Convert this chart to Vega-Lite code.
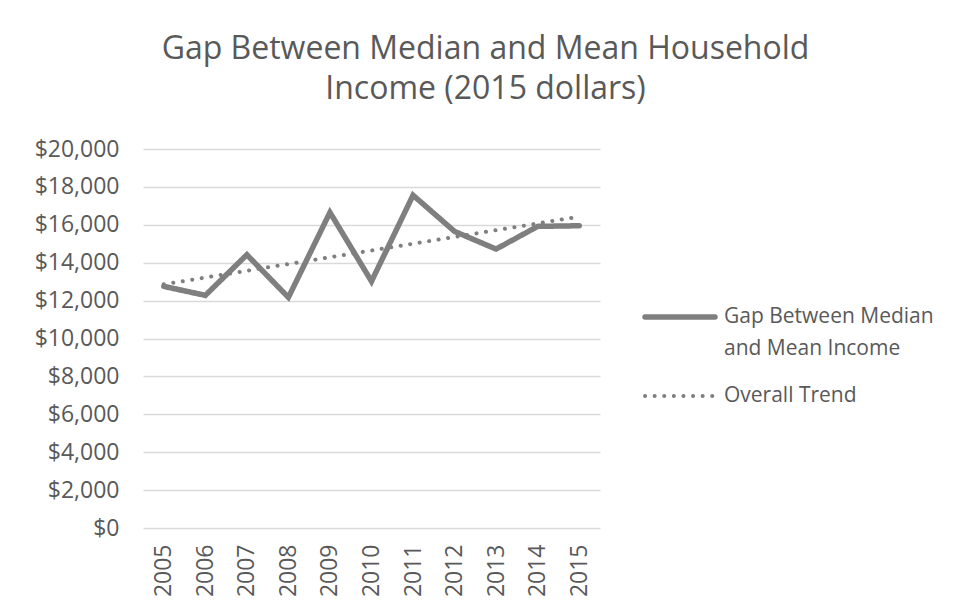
{
  "$schema": "https://vega.github.io/schema/vega-lite/v6.json",
  "width": 457,
  "height": 379,
  "autosize": {"type": "none"},
  "padding": {"left": 143, "top": 149, "right": 363, "bottom": 87},
  "background": "white",
  "title": {
    "text": ["Gap Between Median and Mean Household", "Income (2015 dollars)"],
    "anchor": "middle",
    "frame": "group",
    "dx": 114,
    "offset": 7,
    "font": "Open Sans",
    "fontSize": 32,
    "fontWeight": "normal",
    "color": "#595959",
    "lineHeight": 40,
    "baseline": "alphabetic"
  },
  "data": {
    "values": [
      {"year": "2005", "value": 12750, "series": "Gap Between Median and Mean Income"},
      {"year": "2006", "value": 12275, "series": "Gap Between Median and Mean Income"},
      {"year": "2007", "value": 14420, "series": "Gap Between Median and Mean Income"},
      {"year": "2008", "value": 12170, "series": "Gap Between Median and Mean Income"},
      {"year": "2009", "value": 16655, "series": "Gap Between Median and Mean Income"},
      {"year": "2010", "value": 13015, "series": "Gap Between Median and Mean Income"},
      {"year": "2011", "value": 17560, "series": "Gap Between Median and Mean Income"},
      {"year": "2012", "value": 15650, "series": "Gap Between Median and Mean Income"},
      {"year": "2013", "value": 14720, "series": "Gap Between Median and Mean Income"},
      {"year": "2014", "value": 15917, "series": "Gap Between Median and Mean Income"},
      {"year": "2015", "value": 15950, "series": "Gap Between Median and Mean Income"},
      {"year": "2005", "value": 12860, "series": "Overall Trend"},
      {"year": "2015", "value": 16430, "series": "Overall Trend"}
    ]
  },
  "mark": {"type": "line", "strokeCap": "round", "strokeJoin": "miter"},
  "encoding": {
    "x": {
      "field": "year",
      "type": "ordinal",
      "scale": {"type": "point", "padding": 0.5},
      "axis": {
        "title": null,
        "labelAngle": -90,
        "labelFont": "Open Sans",
        "labelFontSize": 23,
        "labelColor": "#595959",
        "labelPadding": 16,
        "domain": false,
        "ticks": false,
        "grid": false
      }
    },
    "y": {
      "field": "value",
      "type": "quantitative",
      "scale": {"domain": [0, 20000], "nice": false},
      "axis": {
        "title": null,
        "values": [0, 2000, 4000, 6000, 8000, 10000, 12000, 14000, 16000, 18000, 20000],
        "format": "$,.0f",
        "labelFont": "Open Sans",
        "labelFontSize": 23,
        "labelColor": "#595959",
        "labelPadding": 24,
        "domain": false,
        "ticks": false,
        "grid": true,
        "gridColor": "#d9d9d9",
        "gridWidth": 1.5
      }
    },
    "color": {
      "field": "series",
      "type": "nominal",
      "scale": {"range": ["#7f7f7f", "#7f7f7f"]},
      "legend": {
        "title": null,
        "orient": "none",
        "legendX": 499,
        "legendY": 130,
        "symbolType": "stroke",
        "symbolSize": 4900,
        "labelFont": "Open Sans",
        "labelFontSize": 21,
        "labelColor": "#595959",
        "labelOffset": 6,
        "labelLimit": 300,
        "rowPadding": -4,
        "labelExpr": "datum.label == 'Gap Between Median and Mean Income' ? ['Gap Between Median', 'and Mean Income'] : datum.label",
        "encode": {"symbols": {"update": {"strokeCap": {"value": "round"}}}}
      }
    },
    "strokeDash": {
      "field": "series",
      "type": "nominal",
      "scale": {"range": [[1, 0], [0.1, 9.5]]},
      "legend": null
    },
    "strokeWidth": {
      "field": "series",
      "type": "nominal",
      "scale": {"range": [5.5, 4]},
      "legend": null
    }
  },
  "config": {
    "view": {"stroke": null},
    "style": {"guide-label": {"lineHeight": 32}}
  }
}
